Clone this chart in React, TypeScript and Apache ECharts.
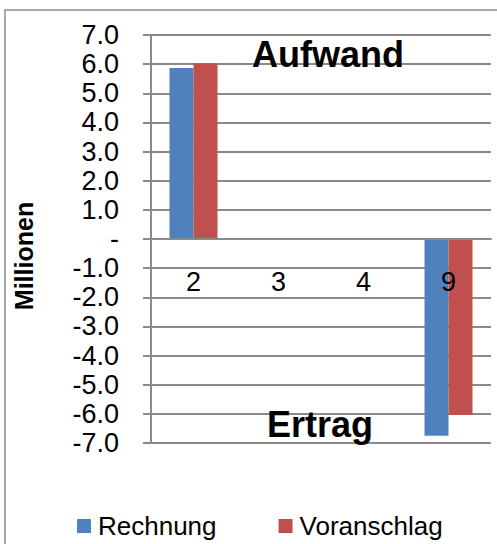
import React, { useEffect, useRef } from "react";
import * as echarts from "echarts";

const categories = ["2", "3", "4", "9"];
const rechnung = [5.87, 0, 0, -6.75];
const voranschlag = [6.03, 0, 0, -6.04];
const seriesNames = ["Rechnung", "Voranschlag"];
const yMin = -7;
const yMax = 7;
const yStep = 1;
const axisTitle = "Millionen";
const noteTop = "Aufwand";
const noteBottom = "Ertrag";

const FONT = "'Liberation Sans', Arial, sans-serif";
const GRID = "#8a8a8a";

export default function App() {
  const ref = useRef<HTMLDivElement>(null);
  useEffect(() => {
    const chart = echarts.init(ref.current!, null, { renderer: "svg" });
    chart.setOption({
      animation: false,
      backgroundColor: "#ffffff",
      textStyle: { fontFamily: FONT },
      grid: { left: 151, right: 6, top: 35, bottom: 101, containLabel: false },
      legend: {
        data: seriesNames,
        left: 72,
        top: 508,
        icon: "rect",
        itemWidth: 14,
        itemHeight: 14,
        itemGap: 62,
        textStyle: { fontSize: 26, color: "#000", fontFamily: FONT, padding: [0, 0, 0, 2] },
      },
      xAxis: {
        type: "category",
        data: categories,
        z: 5,
        offset: -204,
        axisLine: { show: true, onZero: false, lineStyle: { color: GRID, width: 2 } },
        axisTick: { show: false },
        axisLabel: { color: "#000", fontSize: 27, fontFamily: FONT, margin: 29 },
        splitLine: { show: false },
      },
      yAxis: {
        type: "value",
        min: yMin,
        max: yMax,
        interval: yStep,
        axisLine: { show: true, lineStyle: { color: GRID, width: 2 } },
        axisTick: { show: true, inside: false, length: 8, lineStyle: { color: GRID, width: 2 } },
        axisLabel: {
          color: "#000",
          fontSize: 27,
          fontFamily: FONT,
          margin: 32,
          formatter: (v: number) => (Math.abs(v) < 1e-9 ? "-" : v.toFixed(1)),
        },
        splitLine: { show: true, lineStyle: { color: GRID, width: 2 } },
      },
      series: [
        {
          name: seriesNames[0],
          type: "bar",
          data: rechnung,
          barWidth: 24,
          barGap: "0%",
          itemStyle: { color: "#4F81BD" },
        },
        {
          name: seriesNames[1],
          type: "bar",
          data: voranschlag,
          barWidth: 24,
          barGap: "0%",
          itemStyle: { color: "#C0504D" },
        },
      ],
      graphic: [
        {
          type: "rect",
          z: -1,
          shape: { x: 5, y: 10, width: 520, height: 580 },
          style: { fill: "none", stroke: "#8c8c8c", lineWidth: 1.5 },
        },
        {
          type: "text",
          x: 24,
          y: 256,
          rotation: Math.PI / 2,
          style: {
            text: axisTitle,
            font: `bold 25px ${FONT}`,
            fill: "#000",
            align: "center",
            verticalAlign: "middle",
          },
        },
        {
          type: "text",
          x: 252,
          y: 54,
          z: 10,
          style: {
            text: noteTop,
            font: `bold 36px ${FONT}`,
            fill: "#000",
            align: "left",
            verticalAlign: "middle",
          },
        },
        {
          type: "text",
          x: 267,
          y: 424,
          z: 10,
          style: {
            text: noteBottom,
            font: `bold 36px ${FONT}`,
            fill: "#000",
            align: "left",
            verticalAlign: "middle",
          },
        },
      ],
    });
    return () => chart.dispose();
  }, []);
  return (
    <div
      ref={ref}
      style={{ position: "fixed", left: 0, top: 0, width: 497, height: 544, background: "#fff" }}
    />
  );
}
